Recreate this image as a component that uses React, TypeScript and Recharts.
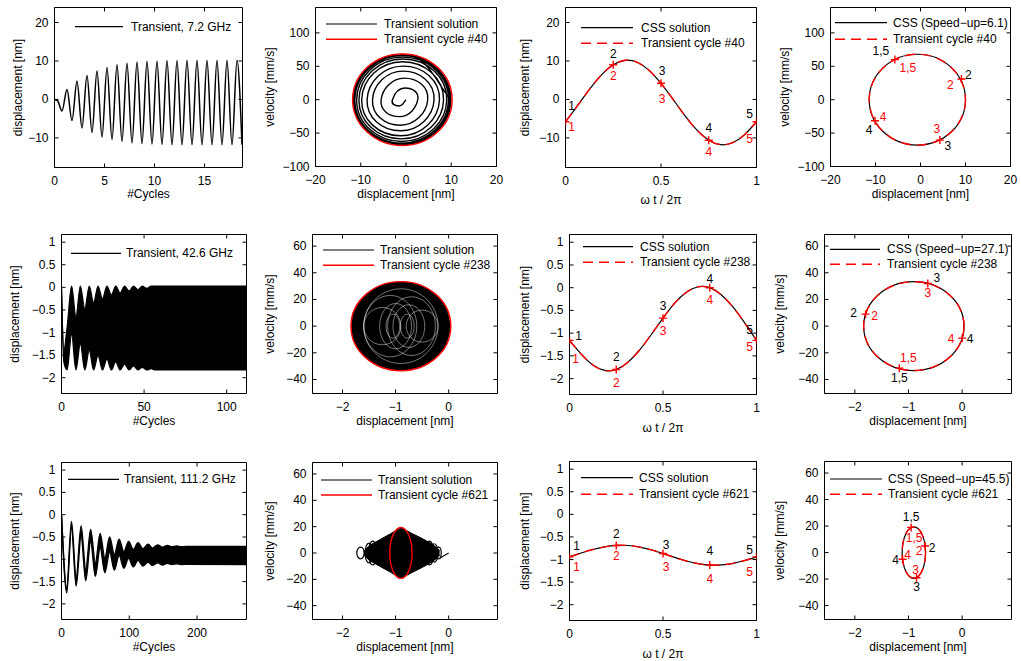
import React from 'react';
import { ComposedChart, Line, Area, Scatter, XAxis, YAxis, ReferenceArea } from 'recharts';

const FONT = '"Liberation Sans", Arial, Helvetica, sans-serif';
const RED = '#ff0000';
const DASH = '10 6';

// ================= Row 1 : 7.2 GHz =================
const cyc72 = [0, 0.3, 0.75, 1.25, 1.75, 2.25, 2.75, 3.25, 3.75, 4.25, 4.75, 5.25, 5.75, 6.25, 6.75, 7.25, 7.75, 8.25, 8.75, 9.25, 9.75, 10.25, 10.75, 11.25, 11.75, 12.25, 12.75, 13.25, 13.75, 14.25, 14.75, 15.25, 15.75, 16.25, 16.75, 17.25, 17.75, 18.25, 18.75];
const disp72 = [0, -0.3, -3.0, 2.6, -5.5, 4.8, -7.4, 6.2, -8.6, 7.4, -9.8, 8.3, -10.4, 9.0, -10.9, 9.4, -11.3, 9.7, -11.5, 9.9, -11.6, 10.0, -11.7, 10.1, -11.8, 10.1, -11.8, 10.2, -11.8, 10.2, -11.8, 10.2, -11.8, 10.2, -11.8, 10.2, -11.8, 10.2, -11.8];
const spiral72X = [0, -1.5, -3.0, -0.2, 2.6, -1.45, -5.5, -0.35, 4.8, -1.3, -7.4, -0.6, 6.2, -1.2, -8.6, -0.6, 7.4, -1.2, -9.8, -0.75, 8.3, -1.05, -10.4, -0.7, 9.0, -0.95, -10.9, -0.75, 9.4, -0.95, -11.3, -0.8, 9.7, -0.9, -11.5, -0.8, 9.9, -0.85, -11.6, -0.8, 10.0];
const spiral72V = [0, -9.4, 0, 17.6, 0, -25.4, 0, 32.3, 0, -38.3, 0, 42.7, 0, -46.5, 0, 50.2, 0, -54.0, 0, 56.8, 0, -58.7, 0, 60.9, 0, -62.5, 0, 63.7, 0, -65.0, 0, 65.9, 0, -66.6, 0, 67.2, 0, -67.5, 0, 67.8, 0];
const cycle40X = [10.2, -0.8, -11.8, -0.8];
const cycle40V = [0, -68.5, 0, 68.5];
const phase = [0, 0.0625, 0.125, 0.1875, 0.25, 0.3125, 0.375, 0.4375, 0.5, 0.5625, 0.625, 0.6875, 0.75, 0.8125, 0.875, 0.9375, 1];
const css72 = [-5.8, -1.66, 2.6, 6.34, 9.0, 10.17, 9.66, 7.56, 4.19, 0.06, -4.2, -7.94, -10.6, -11.77, -11.26, -9.16, -5.8];
const css72LoopX = [10.0, -0.7, -11.4, -0.7];
const css72LoopV = [0, -68, 0, 68];
const markPhase = [0, 0.25, 0.5, 0.75, 1];
const marks72D = [-5.8, 9.0, 4.19, -10.6, -5.8];
const names5 = ['1', '2', '3', '4', '5'];
const marks72LoopX = [-5.7, 9.1, 4.3, -10.1];
const marks72LoopV = [60, 31, -60.5, -31.5];
const names4 = ['1,5', '2', '3', '4'];

// ================= Row 2 : 42.6 GHz =================
const cyc426 = [0, 1.4, 3.4, 6.1, 8.75, 11.4, 14.1, 16.8, 19.45, 22.1, 24.8, 27.5, 30.2, 32.8, 35.5, 38.2, 40.9, 43.6, 46.3, 48.9, 51.6, 54.3, 57, 112];
const low426 = [0, -1.65, -1.83, -1.04, -1.83, -1.25, -1.83, -1.40, -1.83, -1.51, -1.83, -1.59, -1.83, -1.65, -1.83, -1.70, -1.83, -1.74, -1.83, -1.77, -1.83, -1.80, -1.83, -1.83];
const up426 = [0, -1.40, -0.88, 0.03, -0.65, 0.03, -0.47, 0.03, -0.34, 0.03, -0.25, 0.03, -0.17, 0.03, -0.12, 0.03, -0.08, 0.03, -0.05, 0.03, -0.02, 0.03, 0.03, 0.03];
const disk238X = [-1.835, -1.807, -1.742, -1.601, -1.368, -1.134, -0.9, -0.666, -0.432, -0.199, -0.059, -0.007, 0.035];
const disk238V = [0, 8.1, 14.5, 21.9, 28.8, 32.1, 33.2, 32.1, 28.8, 21.9, 14.5, 8.1, 0];
const loops238X = [[-0.92, -1.05, -1.18, -1.05], [-0.65, -0.78, -0.91, -0.78], [-0.7, -1.0, -1.3, -1.0], [-0.45, -0.75, -1.05, -0.75], [-0.6, -1.1, -1.6, -1.1], [-0.25, -0.7, -1.15, -0.7], [-0.2, -0.9, -1.6, -0.9], [-0.9, -1.25, -1.6, -1.25], [-0.2, -0.5, -0.8, -0.5]];
const loops238V = [[0, -9, 0, 9], [0, -9, 0, 9], [0, -17, 0, 17], [0, -16, 0, 16], [0, -23, 0, 23], [0, -22, 0, 22], [0, -28, 0, 28], [0, -14, 0, 14], [0, -12, 0, 12]];
const cycle238X = [0.04, -0.9, -1.84, -0.9];
const cycle238V = [0, -33.4, 0, 33.4];
const css426 = [-1.16, -1.46, -1.70, -1.82, -1.80, -1.64, -1.37, -1.03, -0.67, -0.34, -0.10, 0.02, 0.0, -0.16, -0.43, -0.78, -1.16];
const marks426D = [-1.16, -1.80, -0.67, 0.0, -1.16];
const css426LoopX = [0.035, -0.9, -1.835, -0.9];
const css426LoopV = [0, -33.3, 0, 33.3];
const marks426LoopX = [-1.17, -1.8, -0.64, 0.0];
const marks426LoopV = [-31.5, 9, 32, -9];

// ================= Row 3 : 111.2 GHz =================
const cyc1112 = [0, 7.8, 14.7, 21.6, 28.9, 35.8, 43, 50, 57, 64, 71, 78, 85, 92, 99, 106, 113, 120, 128, 134, 142, 149, 156, 163, 170, 177, 184, 273];
const low1112 = [0, -1.75, -0.30, -1.60, -0.49, -1.48, -0.61, -1.38, -0.74, -1.30, -0.84, -1.24, -0.91, -1.20, -0.98, -1.17, -1.02, -1.15, -1.06, -1.14, -1.08, -1.13, -1.09, -1.12, -1.10, -1.12, -1.11, -1.12];
const up1112 = [0, -1.63, -0.15, -1.40, -0.25, -1.22, -0.33, -1.08, -0.42, -0.97, -0.50, -0.89, -0.55, -0.83, -0.60, -0.78, -0.63, -0.76, -0.66, -0.75, -0.68, -0.73, -0.69, -0.72, -0.70, -0.72, -0.71, -0.71];
const diamondX = [-1.6, -1.5, -1.3, -1.1, -0.9, -0.7, -0.5, -0.3, -0.17];
const diamondLo = [-1, -5.5, -10, -14.5, -19.3, -15, -11, -6.5, -2];
const diamondHi = [1, 5.5, 10, 14.5, 19.3, 15, 11, 6.5, 2];
const loops621X = [[-1.59, -1.66, -1.73, -1.66], [-1.425, -1.5, -1.575, -1.5], [-1.35, -1.43, -1.51, -1.43], [-0.28, -0.36, -0.44, -0.36], [-0.2, -0.27, -0.34, -0.27], [-0.14, -0.19, -0.24, -0.19]];
const loops621V = [[0, -4.5, 0, 4.5], [0, -7.5, 0, 7.5], [0, -9, 0, 9], [0, -9, 0, 9], [0, -7, 0, 7], [0, -4.5, 0, 4.5]];
const start621X = [0, -0.17];
const start621V = [0, -4];
const cycle621X = [-0.69, -0.9, -1.11, -0.9];
const cycle621V = [0, -19.3, 0, 19.3];
const css1112 = [-0.942, -0.856, -0.778, -0.719, -0.688, -0.690, -0.725, -0.788, -0.868, -0.954, -1.032, -1.091, -1.122, -1.120, -1.085, -1.022, -0.942];
const marks1112D = [-0.942, -0.688, -0.868, -1.122, -0.942];
const css1112LoopX = [-0.682, -0.9, -1.118, -0.9];
const css1112LoopV = [0, -19.4, 0, 19.4];
const marks1112LoopX = [-0.95, -0.69, -0.85, -1.11];
const marks1112LoopV = [19.0, 5, -19.0, -5];

// ================= helpers =================
const zipXY = (xs: number[], ys: number[]) => xs.map((x, i) => ({ x, y: ys[i] }));
const zipRange = (xs: number[], lo: number[], hi: number[]) => xs.map((x, i) => ({ x, r: [lo[i], hi[i]] }));
const zipMarks = (xs: number[], ys: number[], ns: string[]) => xs.map((x, i) => ({ x, y: ys[i], n: ns[i] }));

function makeCardinal(closed: boolean, k: number) {
  return function (context: any) {
    let pts: number[][] = [];
    return {
      areaStart() {},
      areaEnd() {},
      lineStart() { pts = []; },
      point(x: number, y: number) { pts.push([+x, +y]); },
      lineEnd() {
        const n = pts.length;
        if (!n) return;
        const get = (i: number) => (closed ? pts[((i % n) + n) % n] : pts[Math.max(0, Math.min(n - 1, i))]);
        context.moveTo(pts[0][0], pts[0][1]);
        const segs = closed ? n : n - 1;
        for (let i = 0; i < segs; i++) {
          const p0 = get(i - 1), p1 = get(i), p2 = get(i + 1), p3 = get(i + 2);
          context.bezierCurveTo(
            p1[0] + (k * (p2[0] - p0[0])) / 3, p1[1] + (k * (p2[1] - p0[1])) / 3,
            p2[0] - (k * (p3[0] - p1[0])) / 3, p2[1] - (k * (p3[1] - p1[1])) / 3,
            p2[0], p2[1]
          );
        }
        if (closed) context.closePath();
      },
    };
  };
}
const loopCurve = makeCardinal(true, 0.828);
const spiralCurve = makeCardinal(false, 0.828);

const fmt = (v: number) => (v < 0 ? '\u2212' + String(-v) : String(v));
const LP: any = { dot: false, activeDot: false, isAnimationActive: false, legendType: 'none' };

const XTick = (p: any) => {
  const { x, payload, h, by } = p;
  const y = by;
  return (
    <g>
      <line x1={x} x2={x} y1={y} y2={y - 4} stroke="#000" strokeWidth={1} />
      <line x1={x} x2={x} y1={y - h} y2={y - h + 4} stroke="#000" strokeWidth={1} />
      <text x={x} y={y + 13} textAnchor="middle" dominantBaseline="central" fontSize={12} fontFamily={FONT} fill="#000">{fmt(payload.value)}</text>
    </g>
  );
};
const YTick = (p: any) => {
  const { y, payload, w, bx } = p;
  const x = bx;
  return (
    <g>
      <line x1={x} x2={x + 4} y1={y} y2={y} stroke="#000" strokeWidth={1} />
      <line x1={x + w} x2={x + w - 4} y1={y} y2={y} stroke="#000" strokeWidth={1} />
      <text x={x - 6} y={y} textAnchor="end" dominantBaseline="central" fontSize={12} fontFamily={FONT} fill="#000">{fmt(payload.value)}</text>
    </g>
  );
};

type Place = Record<string, number[]>;
const markShape = (place: Place) => (p: any) => {
  const { cx, cy, payload } = p;
  const o = place[payload.n] || [0, -11, 0, 11];
  const ts: any = { fontSize: 12, fontFamily: FONT, textAnchor: 'middle', dominantBaseline: 'central' };
  return (
    <g>
      <line x1={cx - 4} x2={cx + 4} y1={cy} y2={cy} stroke={RED} strokeWidth={1.4} />
      <line x1={cx} x2={cx} y1={cy - 4} y2={cy + 4} stroke={RED} strokeWidth={1.4} />
      <text x={cx + o[0]} y={cy + o[1]} fill="#000" {...ts}>{payload.n}</text>
      <text x={cx + o[2]} y={cy + o[3]} fill={RED} {...ts}>{payload.n}</text>
    </g>
  );
};

const place72: Place = { '1': [6, -16, 6, 5], '2': [0, -11, 0, 11], '3': [1, -12, 1, 16], '4': [0, -12, 0, 12], '5': [-7, -8, -7, 17] };
const place72L: Place = { '1,5': [-14, -9, 13, 8], '2': [7, -4, -11, 6], '3': [8, 6, -3, -11], '4': [-6, 9, 8, -4] };
const place426: Place = { '1': [9, -4, 6, 19], '2': [0, -13, 0, 13], '3': [0, -12, 0, 13], '4': [0, -9, 0, 12], '5': [-7, -10, -7, 7] };
const place426L: Place = { '1,5': [0, 10, 9, -10], '2': [-12, -1, 9, 2], '3': [9, -5, 0, 10], '4': [8, 1, -11, 1] };
const place1112: Place = { '1': [7, -11, 7, 10], '2': [0, -11, 0, 11], '3': [3, -9, 3, 13], '4': [0, -14, 0, 14], '5': [-7, -7, -7, 15] };
const place1112L: Place = { '1,5': [0, -10, 3, 11], '2': [7, 2, -6, 5], '3': [0, 9, -1, -8], '4': [-7, 1, 5, -4] };

type Box = [number, number, number, number];
function Panel(props: { box: Box; xd: [number, number]; yd: [number, number]; xt: number[]; yt: number[]; data?: any[]; children?: React.ReactNode }) {
  const { box, xd, yd, xt, yt, data, children } = props;
  const [L, T, R, B] = box;
  const left = Math.floor(L) - 60;
  const top = Math.floor(T) - 10;
  const width = Math.ceil(R) + 12 - left;
  const height = Math.ceil(B) + 40 - top;
  // axes are 1px thick (zero-size axes are not drawn), so margins shrink by 1
  const margin = { left: L - left - 1, top: T - top, right: left + width - R, bottom: top + height - B - 1 };
  const pw = R - L;
  const ph = B - T;
  const bx = L - left;
  const by = B - top;
  return (
    <div style={{ position: 'absolute', left, top, width, height }}>
      <ComposedChart width={width} height={height} margin={margin} data={data}>
        <XAxis type="number" dataKey="x" domain={xd} ticks={xt} interval={0} allowDataOverflow height={1}
          tickSize={0} tickMargin={0} axisLine={false} tickLine={false} tick={(p: any) => <XTick {...p} h={ph} by={by} />} />
        <YAxis type="number" domain={yd} ticks={yt} interval={0} allowDataOverflow width={1}
          tickSize={0} tickMargin={0} axisLine={false} tickLine={false} tick={(p: any) => <YTick {...p} w={pw} bx={bx} />} />
        {children}
        <ReferenceArea x1={xd[0]} x2={xd[1]} y1={yd[0]} y2={yd[1]} fill="none" fillOpacity={0} stroke="#000" strokeWidth={1} ifOverflow="visible" />
      </ComposedChart>
    </div>
  );
}

// ================= layout (boxes, labels, legends) =================
const BOX: Record<string, Box> = {
  r1c1: [54.5, 7.5, 242.5, 167.5], r1c2: [315.5, 7.5, 496.5, 166.5], r1c3: [565.5, 7.5, 756.5, 167.5], r1c4: [830.5, 7.5, 1010.5, 166.5],
  r2c1: [61.5, 234.5, 246.5, 393.5], r2c2: [312.5, 234.5, 497.5, 393.5], r2c3: [569.5, 234.5, 756.5, 394.5], r2c4: [824.5, 234.5, 1011.5, 393.5],
  r3c1: [61.5, 462.5, 246.5, 619.5], r3c2: [312.5, 462.5, 497.5, 619.5], r3c3: [569.5, 461.5, 756.5, 620.5], r3c4: [824.5, 461.5, 1011.5, 619.5],
};
const AXLAB: [string, string, number, string, number][] = [
  ['r1c1', '#Cycles', 194, 'displacement [nm]', 18], ['r1c2', 'displacement [nm]', 194, 'velocity [mm/s]', 270],
  ['r1c3', '\u03c9 t / 2\u03c0', 200, 'displacement [nm]', 525], ['r1c4', 'displacement [nm]', 194, 'velocity [mm/s]', 785],
  ['r2c1', '#Cycles', 421, 'displacement [nm]', 15], ['r2c2', 'displacement [nm]', 421, 'velocity [mm/s]', 270],
  ['r2c3', '\u03c9 t / 2\u03c0', 428, 'displacement [nm]', 525], ['r2c4', 'displacement [nm]', 421, 'velocity [mm/s]', 780],
  ['r3c1', '#Cycles', 647, 'displacement [nm]', 15], ['r3c2', 'displacement [nm]', 647, 'velocity [mm/s]', 270],
  ['r3c3', '\u03c9 t / 2\u03c0', 654, 'displacement [nm]', 525], ['r3c4', 'displacement [nm]', 647, 'velocity [mm/s]', 780],
];
type LegEntry = { t: string; c: string; d?: string };
const LEG: { x0: number; x1: number; tx: number; ys: number[]; e: LegEntry[] }[] = [
  { x0: 75, x1: 123, tx: 131, ys: [26.7], e: [{ t: 'Transient, 7.2 GHz', c: '#000' }] },
  { x0: 326, x1: 377, tx: 384, ys: [24, 39.3], e: [{ t: 'Transient solution', c: '#000' }, { t: 'Transient cycle #40', c: RED }] },
  { x0: 581, x1: 633, tx: 641, ys: [27.7, 43.3], e: [{ t: 'CSS solution', c: '#000' }, { t: 'Transient cycle #40', c: RED, d: DASH }] },
  { x0: 835, x1: 887, tx: 893, ys: [22.7, 39.3], e: [{ t: 'CSS (Speed\u2212up=6.1)', c: '#000' }, { t: 'Transient cycle #40', c: RED, d: DASH }] },
  { x0: 71, x1: 121, tx: 126, ys: [253.3], e: [{ t: 'Transient, 42.6 GHz', c: '#000' }] },
  { x0: 323, x1: 374, tx: 380, ys: [250, 265.3], e: [{ t: 'Transient solution', c: '#000' }, { t: 'Transient cycle #238', c: RED }] },
  { x0: 583, x1: 633, tx: 640, ys: [246.7, 262.3], e: [{ t: 'CSS solution', c: '#000' }, { t: 'Transient cycle #238', c: RED, d: DASH }] },
  { x0: 830, x1: 880, tx: 887, ys: [249.3, 264.3], e: [{ t: 'CSS (Speed\u2212up=27.1)', c: '#000' }, { t: 'Transient cycle #238', c: RED, d: DASH }] },
  { x0: 68, x1: 119, tx: 124, ys: [479.3], e: [{ t: 'Transient, 111.2 GHz', c: '#000' }] },
  { x0: 321, x1: 372, tx: 378, ys: [480, 495], e: [{ t: 'Transient solution', c: '#000' }, { t: 'Transient cycle #621', c: RED }] },
  { x0: 581, x1: 633, tx: 639, ys: [477.7, 494.3], e: [{ t: 'CSS solution', c: '#000' }, { t: 'Transient cycle #621', c: RED, d: DASH }] },
  { x0: 830, x1: 882, tx: 888, ys: [479, 494.3], e: [{ t: 'CSS (Speed\u2212up=45.5)', c: '#000' }, { t: 'Transient cycle #621', c: RED, d: DASH }] },
];

const Overlay = () => (
  <svg width={1021} height={661} style={{ position: 'absolute', left: 0, top: 0, pointerEvents: 'none' }}>
    {AXLAB.map(([k, xl, xy, yl, yx]) => {
      const [L, T, R, B] = BOX[k];
      const cy = (T + B) / 2;
      return (
        <g key={k} fontFamily={FONT} fontSize={12} fill="#000">
          <text x={(L + R) / 2} y={xy} textAnchor="middle" dominantBaseline="central">{xl}</text>
          <text transform={`translate(${yx},${cy}) rotate(-90)`} textAnchor="middle" dominantBaseline="central">{yl}</text>
        </g>
      );
    })}
    {LEG.map((lg, i) => (
      <g key={i}>
        {lg.e.map((en, j) => (
          <g key={j}>
            <line x1={lg.x0} x2={lg.x1} y1={lg.ys[j]} y2={lg.ys[j]} stroke={en.c} strokeWidth={en.c === RED ? 1.4 : 1.2} strokeDasharray={en.d} />
            <text x={lg.tx} y={lg.ys[j]} dominantBaseline="central" fontFamily={FONT} fontSize={12} fill="#000">{en.t}</text>
          </g>
        ))}
      </g>
    ))}
  </svg>
);

const Y72: [number, number] = [-17.7, 23.9];
const V72: [number, number] = [-100, 138];
const YS: [number, number] = [-2.35, 1.17];
const VS: [number, number] = [-50.5, 68.7];
const XS: [number, number] = [-2.565, 0.92];
const dispTicksS = [-2, -1.5, -1, -0.5, 0, 0.5, 1];
const velTicksS = [-40, -20, 0, 20, 40, 60];

export default function App() {
  return (
    <div style={{ position: 'absolute', left: 0, top: 0, width: 1021, height: 661, background: '#fff', overflow: 'hidden' }}>
      {/* Row 1 */}
      <Panel box={BOX.r1c1} xd={[0, 18.8]} yd={Y72} xt={[0, 5, 10, 15]} yt={[-10, 0, 10, 20]}>
        <Line {...LP} data={zipXY(cyc72, disp72)} dataKey="y" type="monotone" stroke="#000" strokeWidth={1.5} />
      </Panel>
      <Panel box={BOX.r1c2} xd={[-20, 20]} yd={V72} xt={[-20, -10, 0, 10, 20]} yt={[-100, -50, 0, 50, 100]}>
        <Line {...LP} data={zipXY(spiral72X, spiral72V)} dataKey="y" type={spiralCurve} stroke="#000" strokeWidth={1.4} />
        <Line {...LP} data={zipXY(cycle40X, cycle40V)} dataKey="y" type={loopCurve} stroke={RED} strokeWidth={1.4} />
      </Panel>
      <Panel box={BOX.r1c3} xd={[0, 1]} yd={Y72} xt={[0, 0.5, 1]} yt={[-10, 0, 10, 20]}>
        <Line {...LP} data={zipXY(phase, css72)} dataKey="y" type="natural" stroke="#000" strokeWidth={1.2} />
        <Line {...LP} data={zipXY(phase, css72)} dataKey="y" type="natural" stroke={RED} strokeWidth={1.4} strokeDasharray={DASH} />
        <Scatter data={zipMarks(markPhase, marks72D, names5)} dataKey="y" isAnimationActive={false} shape={markShape(place72)} legendType="none" />
      </Panel>
      <Panel box={BOX.r1c4} xd={[-20, 20]} yd={V72} xt={[-20, -10, 0, 10, 20]} yt={[-100, -50, 0, 50, 100]}>
        <Line {...LP} data={zipXY(css72LoopX, css72LoopV)} dataKey="y" type={loopCurve} stroke="#000" strokeWidth={1.2} />
        <Line {...LP} data={zipXY(css72LoopX, css72LoopV)} dataKey="y" type={loopCurve} stroke={RED} strokeWidth={1.4} strokeDasharray={DASH} />
        <Scatter data={zipMarks(marks72LoopX, marks72LoopV, names4)} dataKey="y" isAnimationActive={false} shape={markShape(place72L)} legendType="none" />
      </Panel>

      {/* Row 2 */}
      <Panel box={BOX.r2c1} xd={[0, 112]} yd={YS} xt={[0, 50, 100]} yt={dispTicksS} data={zipRange(cyc426, low426, up426)}>
        <Area dataKey="r" type="monotone" stroke="#000" strokeWidth={1.2} fill="#000" fillOpacity={1} isAnimationActive={false} activeDot={false} dot={false} legendType="none" />
      </Panel>
      <Panel box={BOX.r2c2} xd={XS} yd={VS} xt={[-2, -1, 0]} yt={velTicksS} data={zipRange(disk238X, disk238V.map((v) => -v), disk238V)}>
        <Area dataKey="r" type="monotone" stroke="#000" strokeWidth={1} fill="#000" fillOpacity={1} isAnimationActive={false} activeDot={false} dot={false} legendType="none" />
        {loops238X.map((lx, i) => (
          <Line key={i} {...LP} data={zipXY(lx, loops238V[i])} dataKey="y" type={loopCurve} stroke="#fff" strokeOpacity={0.75} strokeWidth={0.6} />
        ))}
        <Line {...LP} data={zipXY(cycle238X, cycle238V)} dataKey="y" type={loopCurve} stroke={RED} strokeWidth={1.4} />
      </Panel>
      <Panel box={BOX.r2c3} xd={[0, 1]} yd={YS} xt={[0, 0.5, 1]} yt={dispTicksS}>
        <Line {...LP} data={zipXY(phase, css426)} dataKey="y" type="natural" stroke="#000" strokeWidth={1.2} />
        <Line {...LP} data={zipXY(phase, css426)} dataKey="y" type="natural" stroke={RED} strokeWidth={1.4} strokeDasharray={DASH} />
        <Scatter data={zipMarks(markPhase, marks426D, names5)} dataKey="y" isAnimationActive={false} shape={markShape(place426)} legendType="none" />
      </Panel>
      <Panel box={BOX.r2c4} xd={XS} yd={VS} xt={[-2, -1, 0]} yt={velTicksS}>
        <Line {...LP} data={zipXY(css426LoopX, css426LoopV)} dataKey="y" type={loopCurve} stroke="#000" strokeWidth={1.2} />
        <Line {...LP} data={zipXY(css426LoopX, css426LoopV)} dataKey="y" type={loopCurve} stroke={RED} strokeWidth={1.4} strokeDasharray={DASH} />
        <Scatter data={zipMarks(marks426LoopX, marks426LoopV, names4)} dataKey="y" isAnimationActive={false} shape={markShape(place426L)} legendType="none" />
      </Panel>

      {/* Row 3 */}
      <Panel box={BOX.r3c1} xd={[0, 273]} yd={YS} xt={[0, 100, 200]} yt={dispTicksS} data={zipRange(cyc1112, low1112, up1112)}>
        <Area dataKey="r" type="monotone" stroke="#000" strokeWidth={1.4} fill="#000" fillOpacity={1} isAnimationActive={false} activeDot={false} dot={false} legendType="none" />
      </Panel>
      <Panel box={BOX.r3c2} xd={XS} yd={VS} xt={[-2, -1, 0]} yt={velTicksS} data={zipRange(diamondX, diamondLo, diamondHi)}>
        <Area dataKey="r" type="linear" stroke="#000" strokeWidth={1} fill="#000" fillOpacity={1} isAnimationActive={false} activeDot={false} dot={false} legendType="none" />
        {loops621X.map((lx, i) => (
          <Line key={i} {...LP} data={zipXY(lx, loops621V[i])} dataKey="y" type={loopCurve} stroke="#000" strokeWidth={1.2} />
        ))}
        <Line {...LP} data={zipXY(start621X, start621V)} dataKey="y" type="linear" stroke="#000" strokeWidth={1.1} />
        <Line {...LP} data={zipXY(cycle621X, cycle621V)} dataKey="y" type={loopCurve} stroke={RED} strokeWidth={1.4} />
      </Panel>
      <Panel box={BOX.r3c3} xd={[0, 1]} yd={YS} xt={[0, 0.5, 1]} yt={dispTicksS}>
        <Line {...LP} data={zipXY(phase, css1112)} dataKey="y" type="natural" stroke="#000" strokeWidth={1.2} />
        <Line {...LP} data={zipXY(phase, css1112)} dataKey="y" type="natural" stroke={RED} strokeWidth={1.4} strokeDasharray={DASH} />
        <Scatter data={zipMarks(markPhase, marks1112D, names5)} dataKey="y" isAnimationActive={false} shape={markShape(place1112)} legendType="none" />
      </Panel>
      <Panel box={BOX.r3c4} xd={XS} yd={VS} xt={[-2, -1, 0]} yt={velTicksS}>
        <Line {...LP} data={zipXY(css1112LoopX, css1112LoopV)} dataKey="y" type={loopCurve} stroke="#000" strokeWidth={1.2} />
        <Line {...LP} data={zipXY(css1112LoopX, css1112LoopV)} dataKey="y" type={loopCurve} stroke={RED} strokeWidth={1.4} strokeDasharray={DASH} />
        <Scatter data={zipMarks(marks1112LoopX, marks1112LoopV, names4)} dataKey="y" isAnimationActive={false} shape={markShape(place1112L)} legendType="none" />
      </Panel>

      <Overlay />
    </div>
  );
}
